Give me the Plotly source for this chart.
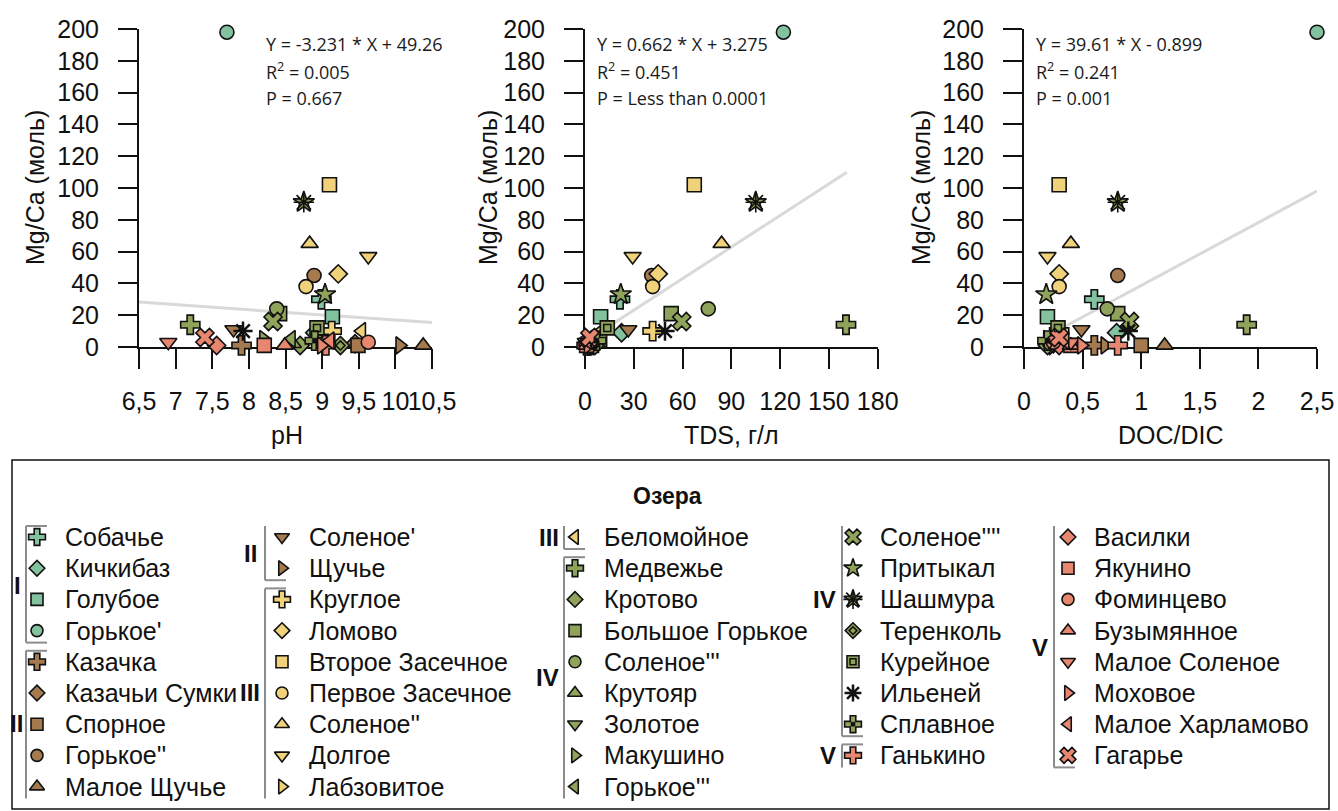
import plotly.graph_objects as go

W, H = 1338, 811

# ---------------- data ----------------
lakes = ["Собачье", "Кичкибаз", "Голубое", "Горькое'",
         "Казачка", "Казачьи Сумки", "Спорное", "Горькое''", "Малое Щучье", "Соленое'", "Щучье",
         "Круглое", "Ломово", "Второе Засечное", "Первое Засечное", "Соленое''", "Долгое", "Лабзовитое", "Беломойное",
         "Медвежье", "Кротово", "Большое Горькое", "Соленое'''", "Крутояр", "Золотое", "Макушино", "Горькое'''",
         "Соленое''''", "Притыкал", "Шашмура", "Теренколь", "Курейное", "Ильеней", "Сплавное",
         "Ганькино", "Василки", "Якунино", "Фоминцево", "Бузымянное", "Малое Соленое", "Моховое", "Малое Харламово", "Гагарье"]
groups = ["I"] * 4 + ["II"] * 7 + ["III"] * 8 + ["IV"] * 15 + ["V"] * 9

ph = [8.99, 8.90, 9.14, 7.70,
      7.90, 9.45, 9.49, 8.89, 10.38, 7.79, 10.06,
      9.13, 9.22, 9.10, 8.78, 8.83, 9.63, 9.00, 9.54,
      7.20, 8.70, 8.42, 8.38, 8.60, 8.95, 8.20, 8.58,
      8.33, 9.04, 8.75, 9.25, 8.93, 7.92, 8.90,
      9.05, 7.56, 8.21, 9.63, 8.49, 6.90, 8.99, 9.11, 7.40]
tds = [21.5, 22.5, 9.6, 122,
       2.0, 3.0, 4.0, 41, 2.0, 26.6, 1.5,
       41.6, 45, 67.2, 41.6, 84, 29.3, 8, 10,
       160.5, 5, 53, 75.8, 5, 3, 6, 11,
       59.5, 22, 105, 6, 13.7, 49.2, 7,
       1, 2, 1, 0.5, 1, 0.5, 2, 1.5, 3]
docdic = [0.60, 0.79, 0.20, 2.50,
          0.60, 0.25, 1.00, 0.80, 1.20, 0.49, 0.69,
          0.30, 0.30, 0.30, 0.30, 0.40, 0.20, 0.25, 0.30,
          1.90, 0.22, 0.80, 0.71, 0.25, 0.30, 0.20, 0.22,
          0.90, 0.19, 0.80, 0.20, 0.29, 0.89, 0.20,
          0.80, 0.30, 0.40, 0.25, 0.40, 0.40, 0.49, 0.35, 0.30]
mgca = [30, 9, 19, 198,
        1, 2, 1, 45, 1, 11, 1,
        10, 46, 102, 38, 65, 57, 3, 10,
        14, 1, 21, 24, 2, 3, 5, 5,
        16, 33, 91, 1, 12, 10, 4,
        1, 1, 1, 3, 1, 3, 1, 4, 6]

# regression lines (endpoints)
fit_ph_x, fit_ph_y = [6.5, 10.5], [28.26, 15.34]
fit_tds_x, fit_tds_y = [0.5, 161], [3.6, 109.9]
fit_dd_x, fit_dd_y = [0.19, 2.5], [6.6, 98.1]

stats_ph = ["Y = -3.231 * X + 49.26", "R<sup>2</sup> = 0.005", "P = 0.667"]
stats_tds = ["Y = 0.662 * X + 3.275", "R<sup>2</sup> = 0.451", "P = Less than 0.0001"]
stats_dd = ["Y = 39.61 * X - 0.899", "R<sup>2</sup> = 0.241", "P = 0.001"]

ph_ticks = [6.5, 7, 7.5, 8, 8.5, 9, 9.5, 10, 10.5]
ph_ticktext = ["6,5", "7", "7,5", "8", "8,5", "9", "9,5", "10", "10,5"]
tds_ticks = [0, 30, 60, 90, 120, 150, 180]
tds_ticktext = ["0", "30", "60", "90", "120", "150", "180"]
dd_ticks = [0, 0.5, 1, 1.5, 2, 2.5]
dd_ticktext = ["0", "0,5", "1", "1,5", "2", "2,5"]
y_ticks = list(range(0, 201, 20))

# ---------------- styles ----------------
group_colors = {"I": "#82C29E", "II": "#A47A4E", "III": "#F0D27A", "IV": "#8FA35A", "V": "#E8876F"}
symbols = ["cross", "diamond", "square", "circle",
           "cross", "diamond", "square", "circle", "triangle-up", "triangle-down", "triangle-right",
           "cross", "diamond", "square", "circle", "triangle-up", "triangle-down", "triangle-right", "triangle-left",
           "cross", "diamond", "square", "circle", "triangle-up", "triangle-down", "triangle-right", "triangle-left",
           "x", "star", "star", "diamond", "square", "asterisk-open", "cross",
           "cross", "diamond", "square", "circle", "triangle-up", "triangle-down", "triangle-right", "triangle-left", "x"]
colors = ["#111111" if s == "asterisk-open" else group_colors[g] for s, g in zip(symbols, groups)]
sizes = []
lwidths = []
for s in symbols:
    if s == "asterisk-open":
        sizes.append(16); lwidths.append(2.5)
    elif s in ("cross", "x", "star"):
        sizes.append(16); lwidths.append(1.6)
    elif s.startswith("triangle"):
        sizes.append(15); lwidths.append(1.6)
    else:
        sizes.append(14); lwidths.append(1.6)

# overlay markers for special symbols
overlay = {"Шашмура": ("asterisk-open", 17, 1.6, "#111111"),
           "Теренколь": ("diamond-open", 7, 1.5, "#111111"),
           "Курейное": ("square-open", 7, 1.5, "#111111"),
           "Сплавное": ("square", 5, 0.5, "#111111")}

FONT = "Liberation Sans, Arial, sans-serif"
STATFONT = "Open Sans, Noto Sans, sans-serif"

fig = go.Figure()

panels = [
    dict(x=ph, fx=fit_ph_x, fy=fit_ph_y, xd=(139, 432), xr=[6.5, 10.5], tv=ph_ticks, tt=ph_ticktext,
         title="pH", tx=287, ytx=35, sx=264, stats=stats_ph),
    dict(x=tds, fx=fit_tds_x, fy=fit_tds_y, xd=(585, 877.7), xr=[0, 180], tv=tds_ticks, tt=tds_ticktext,
         title="TDS, г/л", tx=731, ytx=488, sx=595, stats=stats_tds),
    dict(x=docdic, fx=fit_dd_x, fy=fit_dd_y, xd=(1024, 1317), xr=[0, 2.5], tv=dd_ticks, tt=dd_ticktext,
         title="DOC/DIC", tx=1171, ytx=921, sx=1034, stats=stats_dd),
]

Y_TOP, Y_BOT = 29, 347
annotations = []
layout_axes = {}


def overlay_trace(xs, ys, xa, ya, shrink=0):
    ox, oy, osym, osz, olw, ocol = [], [], [], [], [], []
    for k, name in enumerate(lakes):
        if name in overlay:
            sym, sz, lw, col = overlay[name]
            ox.append(xs[k]); oy.append(ys[k]); osym.append(sym); osz.append(sz - shrink)
            olw.append(lw); ocol.append(col)
    return go.Scatter(x=ox, y=oy, mode="markers", xaxis=xa, yaxis=ya,
                      marker=dict(symbol=osym, size=osz, color=ocol, opacity=1,
                                  line=dict(color="#111111", width=olw)),
                      showlegend=False, cliponaxis=False, hoverinfo="skip")


for i, p in enumerate(panels, start=1):
    xa = "x" if i == 1 else f"x{i}"
    ya = "y" if i == 1 else f"y{i}"
    fig.add_trace(go.Scatter(x=p["fx"], y=p["fy"], mode="lines", xaxis=xa, yaxis=ya,
                             line=dict(color="#D9D9D9", width=3), showlegend=False, hoverinfo="skip",
                             cliponaxis=False))
    fig.add_trace(go.Scatter(x=p["x"], y=mgca, mode="markers", xaxis=xa, yaxis=ya, text=lakes,
                             marker=dict(symbol=symbols, color=colors, size=sizes, opacity=1,
                                         line=dict(color="#111111", width=lwidths)),
                             showlegend=False, cliponaxis=False))
    fig.add_trace(overlay_trace(p["x"], mgca, xa, ya))

    xkey = "xaxis" if i == 1 else f"xaxis{i}"
    ykey = "yaxis" if i == 1 else f"yaxis{i}"
    layout_axes[xkey] = dict(domain=[p["xd"][0] / W, p["xd"][1] / W], range=p["xr"], anchor=ya,
                             tickmode="array", tickvals=p["tv"], ticktext=p["tt"], tickangle=0,
                             ticks="outside", ticklen=20, tickwidth=2, tickcolor="#111111",
                             showline=True, linewidth=2, linecolor="#111111", showgrid=False, zeroline=False,
                             tickfont=dict(family=FONT, size=25, color="#111111"), ticklabelstandoff=11,
                             layer="below traces", automargin=False)
    layout_axes[ykey] = dict(domain=[1 - Y_BOT / H, 1 - Y_TOP / H], range=[0, 200], anchor=xa,
                             tickmode="array", tickvals=y_ticks, tickangle=0,
                             ticks="outside", ticklen=19, tickwidth=2, tickcolor="#111111",
                             showline=True, linewidth=2, linecolor="#111111", showgrid=False, zeroline=False,
                             tickfont=dict(family=FONT, size=25, color="#111111"), ticklabelstandoff=14,
                             layer="below traces", automargin=False)
    annotations.append(dict(x=p["tx"] / W, y=1 - 435 / H, xref="paper", yref="paper", text=p["title"],
                            showarrow=False, font=dict(family=FONT, size=25, color="#111111"),
                            xanchor="center", yanchor="middle"))
    annotations.append(dict(x=p["ytx"] / W, y=1 - 188 / H, xref="paper", yref="paper", text="Mg/Ca (моль)",
                            textangle=-90, showarrow=False, font=dict(family=FONT, size=25, color="#111111"),
                            xanchor="center", yanchor="middle"))
    for j, t in enumerate(p["stats"]):
        annotations.append(dict(x=p["sx"] / W, y=1 - (44 + 27 * j) / H, xref="paper", yref="paper", text=t,
                                showarrow=False, font=dict(family=STATFONT, size=18, color="#1a1a1a"),
                                xanchor="left", yanchor="middle"))

# ---------------- custom legend ----------------
col_ranges = [(0, 9), (9, 18), (18, 27), (27, 35), (35, 43)]
col_marker_x = [37, 282, 575, 853, 1068]
col_text_x = [63, 307, 602, 878, 1092]
row_y0, row_dy = 537, 31.2

lx, ly = [], []
for c, (a, b) in enumerate(col_ranges):
    for r, k in enumerate(range(a, b)):
        yy = row_y0 + r * row_dy
        lx.append(col_marker_x[c]); ly.append(yy)
        annotations.append(dict(x=col_text_x[c], y=yy, xref="x4", yref="y4", text=lakes[k], showarrow=False,
                                font=dict(family=FONT, size=25, color="#111111"),
                                xanchor="left", yanchor="middle"))

fig.add_trace(go.Scatter(x=lx, y=ly, mode="markers", xaxis="x4", yaxis="y4",
                         marker=dict(symbol=symbols, color=colors, size=[s - 2 for s in sizes], opacity=1,
                                     line=dict(color="#111111", width=lwidths)),
                         showlegend=False, hoverinfo="skip", cliponaxis=False))
fig.add_trace(overlay_trace(lx, ly, "x4", "y4", shrink=1))

layout_axes["xaxis4"] = dict(domain=[0, 1], range=[0, W], anchor="y4", visible=False, fixedrange=True)
layout_axes["yaxis4"] = dict(domain=[0, 1], range=[H, 0], anchor="x4", visible=False, fixedrange=True)

shapes = [dict(type="rect", xref="x4", yref="y4", x0=12, x1=1329, y0=460, y1=809,
               line=dict(color="#111111", width=1.5), fillcolor="rgba(0,0,0,0)", layer="below")]

brackets = [(26, 0, 3, True, True), (26, 4, 8, True, False),
            (265, 0, 1, False, True), (265, 2, 8, True, False),
            (564, 0, 0, False, True), (564, 1, 8, True, False),
            (842, 0, 6, False, True), (842, 7, 7, True, False),
            (1054, 0, 7, False, True)]
BR_COL = "#8C8C8C"
for bx, r0, r1, ct, cb in brackets:
    yt = row_y0 + r0 * row_dy - 11
    yb = row_y0 + r1 * row_dy + 12
    shapes.append(dict(type="line", xref="x4", yref="y4", x0=bx, x1=bx, y0=yt, y1=yb,
                       line=dict(color=BR_COL, width=2)))
    if ct:
        shapes.append(dict(type="line", xref="x4", yref="y4", x0=bx, x1=bx + 21, y0=yt, y1=yt,
                           line=dict(color=BR_COL, width=2)))
    if cb:
        shapes.append(dict(type="line", xref="x4", yref="y4", x0=bx, x1=bx + 21, y0=yb, y1=yb,
                           line=dict(color=BR_COL, width=2)))

group_labels = [("I", 23, 585), ("II", 25, 723), ("II", 259, 553), ("III", 262, 692),
                ("III", 561, 537), ("IV", 561, 677), ("IV", 838, 599), ("V", 838, 755), ("V", 1050, 647)]
for t, gx, gy in group_labels:
    annotations.append(dict(x=gx, y=gy, xref="x4", yref="y4", text=f"<b>{t}</b>", showarrow=False,
                            font=dict(family=FONT, size=24, color="#111111"), xanchor="right", yanchor="middle"))

annotations.append(dict(x=667, y=496, xref="x4", yref="y4", text="<b>Озера</b>", showarrow=False,
                        font=dict(family=FONT, size=23, color="#111111"), xanchor="center", yanchor="middle"))

fig.update_layout(width=W, height=H, margin=dict(l=0, r=0, t=0, b=0, pad=0), autosize=False,
                  paper_bgcolor="white", plot_bgcolor="rgba(0,0,0,0)",
                  showlegend=False, annotations=annotations, shapes=shapes, **layout_axes)

fig.write_html("out.html",
               post_script="document.body.style.margin='0';document.body.style.overflow='hidden';")
